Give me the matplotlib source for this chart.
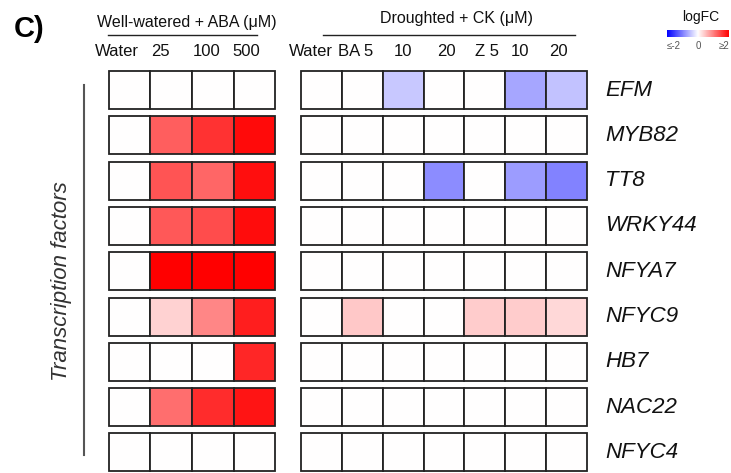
import numpy as np
import matplotlib
matplotlib.use('Agg')
import matplotlib.pyplot as plt
from matplotlib.colors import LinearSegmentedColormap, Normalize
from matplotlib.patches import Rectangle
from matplotlib.lines import Line2D
from matplotlib.transforms import blended_transform_factory
from matplotlib.cm import ScalarMappable

plt.rcParams['font.family'] = ['Liberation Sans', 'DejaVu Sans']

genes = ['EFM', 'MYB82', 'TT8', 'WRKY44', 'NFYA7', 'NFYC9', 'HB7', 'NAC22', 'NFYC4']
aba_cols = ['Water', '25', '100', '500']
ck_cols = ['Water', 'BA 5', '10', '20', 'Z 5', '10', '20']

# logFC, Well-watered + ABA
aba_vals = np.array([
    [0, 0.0, 0.0, 0.0],
    [0, 1.25, 1.6, 1.92],
    [0, 1.33, 1.2, 1.88],
    [0, 1.3, 1.4, 1.9],
    [0, 2.0, 2.0, 2.0],
    [0, 0.35, 0.94, 1.76],
    [0, 0.0, 0.0, 1.69],
    [0, 1.14, 1.65, 1.84],
    [0, 0.0, 0.0, 0.0],
])

# logFC, Droughted + CK
ck_vals = np.array([
    [0, 0, -0.43, 0, 0, -0.7, -0.47],
    [0, 0, 0, 0, 0, 0, 0],
    [0, 0, 0, -0.9, 0, -0.78, -0.98],
    [0, 0, 0, 0, 0, 0, 0],
    [0, 0, 0, 0, 0, 0, 0],
    [0, 0.43, 0, 0, 0.4, 0.4, 0.31],
    [0, 0, 0, 0, 0, 0, 0],
    [0, 0, 0, 0, 0, 0, 0],
    [0, 0, 0, 0, 0, 0, 0],
])

W, H = 731, 473
fig = plt.figure(figsize=(W / 100, H / 100), dpi=100)

cmap = LinearSegmentedColormap.from_list('bwr_fc', ['#0000ff', '#ffffff', '#ff0000'])
norm = Normalize(vmin=-2, vmax=2)

pitch = 45.3
top_px = 67.4
gap = 0.08


def px_box(x0, x1, y0, y1):
    return [x0 / W, 1 - y1 / H, (x1 - x0) / W, (y1 - y0) / H]


def panel(x0, x1, vals, cols, label_dx):
    ax = fig.add_axes(px_box(x0, x1, top_px, top_px + pitch * len(genes)))
    nrow, ncol = vals.shape
    for i in range(nrow):
        for j in range(ncol):
            ax.add_patch(Rectangle((j, i + gap), 1, 1 - 2 * gap,
                                   facecolor=cmap(norm(vals[i, j])),
                                   edgecolor='#222222', linewidth=1.3))
    ax.set_xlim(-0.02, ncol + 0.02)
    ax.set_ylim(nrow, 0)
    ax.axis('off')
    tr = blended_transform_factory(ax.transData, fig.transFigure)
    for j, c in enumerate(cols):
        ax.text(j + 0.5 + label_dx[j], 1 - 52 / H, c, transform=tr,
                ha='center', va='center', fontsize=12, color='#111111')
    return ax


ax_l = panel(108, 276, aba_vals, aba_cols, [-0.3, -0.25, -0.15, -0.2])
ax_r = panel(300, 588, ck_vals, ck_cols, [-0.25, -0.15, 0, 0.05, 0.05, -0.15, -0.2])

# gene labels
tr = blended_transform_factory(fig.transFigure, ax_r.transData)
for i, g in enumerate(genes):
    fig.text(605 / W, i + 0.5, g, transform=tr, ha='left', va='center',
             fontsize=16, style='italic', color='#111111')

# headers
fig.text(187 / W, 1 - 22 / H, 'Well-watered + ABA (μM)', ha='center', va='center',
         fontsize=11.5, color='#111111')
fig.text(457 / W, 1 - 19 / H, 'Droughted + CK (μM)', ha='center', va='center',
         fontsize=11.5, color='#111111')
fig.add_artist(Line2D([108 / W, 257 / W], [1 - 35 / H, 1 - 35 / H], color='#222222', lw=1))
fig.add_artist(Line2D([323 / W, 575 / W], [1 - 35 / H, 1 - 35 / H], color='#222222', lw=1))

fig.text(29 / W, 1 - 29 / H, 'C)', ha='center', va='center', fontsize=21,
         fontweight='bold', color='#000000')

# side label
fig.text(61 / W, 1 - 281 / H, 'Transcription factors', rotation=90, ha='center',
         va='center', fontsize=16, style='italic', color='#333333')
fig.add_artist(Line2D([84 / W, 84 / W], [1 - 85 / H, 1 - 455 / H], color='#555555', lw=1.5))

# colour legend
cax = fig.add_axes(px_box(667, 729, 30, 37))
cb = fig.colorbar(ScalarMappable(norm=norm, cmap=cmap), cax=cax, orientation='horizontal')
cb.outline.set_visible(False)
cb.set_ticks([-2, 0, 2])
cb.set_ticklabels(['≤-2', '0', '≥2'])
cax.tick_params(length=0, pad=3, labelsize=7, labelcolor='#555555')
cax.get_xticklabels()[-1].set_horizontalalignment('right')
cax.get_xticklabels()[0].set_horizontalalignment('left')
fig.text(701 / W, 1 - 17 / H, 'logFC', ha='center', va='center', fontsize=10, color='#111111')

fig.savefig('out.png', dpi=100)
